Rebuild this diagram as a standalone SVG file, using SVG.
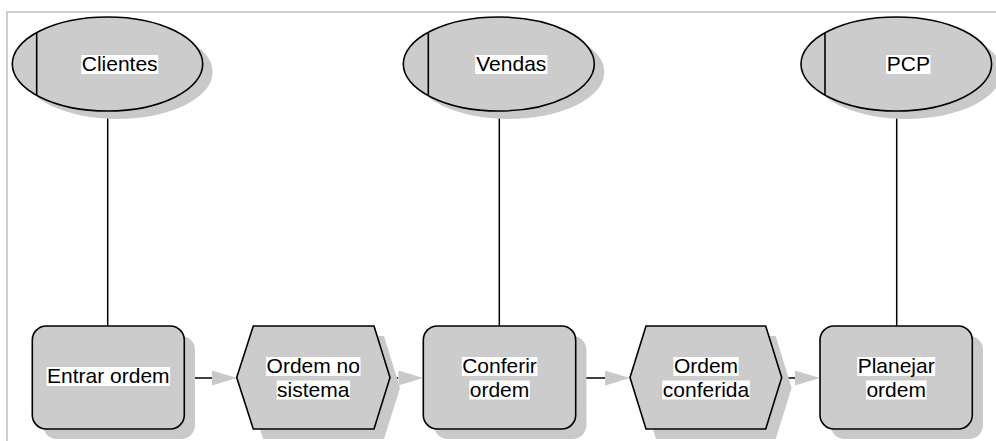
<svg xmlns="http://www.w3.org/2000/svg" width="996" height="441" viewBox="0 0 996 441">
  <style>
    .frame { fill: none; stroke: #cdcdcd; stroke-width: 2; }
    .shadow { fill: #c9c9c9; stroke: none; }
    .shape { fill: #cccccc; stroke: #000; stroke-width: 1.6; }
    .mark { fill: none; stroke: #000; stroke-width: 1.6; }
    .link { fill: none; stroke: #000; stroke-width: 1.5; }
    .bg { fill: #fff; }
    .lbl { font-family: "Liberation Sans", Arial, sans-serif; font-size: 21px; fill: #000; text-anchor: middle; }
  </style>
  <defs>
    <marker id="arrow" markerUnits="userSpaceOnUse" markerWidth="26" markerHeight="16" refX="0" refY="7.5" orient="auto">
      <path d="M0,0 L25,7.5 L0,15 Z" fill="#c9c9c9"/>
    </marker>
  </defs>

  <!-- outer frame -->
  <rect class="frame" x="7" y="12" width="1000" height="440"/>

  <!-- connectors -->
  <g id="connectors">
    <line class="link" x1="107.7" y1="111" x2="107.7" y2="326"/>
    <line class="link" x1="499.3" y1="111" x2="499.3" y2="326"/>
    <line class="link" x1="896.7" y1="111" x2="896.7" y2="326"/>
    <path class="link" d="M184.3,378 H212" marker-end="url(#arrow)"/>
    <path class="link" d="M390,378 H398.3" marker-end="url(#arrow)"/>
    <path class="link" d="M575.7,378 H605" marker-end="url(#arrow)"/>
    <path class="link" d="M781.7,378 H795" marker-end="url(#arrow)"/>
  </g>

  <!-- roles -->
  <g id="clientes">
    <ellipse class="shadow" cx="117.5" cy="72" rx="95.2" ry="47"/>
    <ellipse class="shape" cx="107.5" cy="64" rx="95.2" ry="47"/>
    <line class="mark" x1="36.7" y1="32.5" x2="36.7" y2="95.5"/>
    <rect class="bg" x="81.3" y="55" width="76.9" height="19"/>
    <text class="lbl" x="119.7" y="71">Clientes</text>
  </g>
  <g id="vendas">
    <ellipse class="shadow" cx="508.8" cy="72" rx="95.5" ry="47"/>
    <ellipse class="shape" cx="498.8" cy="64" rx="95.5" ry="47"/>
    <line class="mark" x1="428.3" y1="32.5" x2="428.3" y2="95.5"/>
    <rect class="bg" x="475.2" y="55" width="72.2" height="19"/>
    <text class="lbl" x="511.3" y="71">Vendas</text>
  </g>
  <g id="pcp">
    <ellipse class="shadow" cx="906.3" cy="72" rx="95.3" ry="47"/>
    <ellipse class="shape" cx="896.3" cy="64" rx="95.3" ry="47"/>
    <line class="mark" x1="825" y1="32.5" x2="825" y2="95.5"/>
    <rect class="bg" x="886.2" y="55" width="44.2" height="19"/>
    <text class="lbl" x="908.3" y="71">PCP</text>
  </g>

  <!-- functions -->
  <g id="entrar-ordem">
    <rect class="shadow" x="43" y="336" width="152" height="103" rx="14"/>
    <rect class="shape" x="32.3" y="326" width="152" height="103" rx="14"/>
    <rect class="bg" x="46.6" y="367" width="123.5" height="19"/>
    <text class="lbl" x="108.3" y="383">Entrar ordem</text>
  </g>
  <g id="conferir-ordem">
    <rect class="shadow" x="434" y="336" width="152.4" height="103" rx="14"/>
    <rect class="shape" x="423.3" y="326" width="152.4" height="103" rx="14"/>
    <rect class="bg" x="461.7" y="357" width="75.7" height="19"/>
    <text class="lbl" x="499.5" y="373">Conferir</text>
    <rect class="bg" x="469.3" y="380.5" width="60.5" height="19"/>
    <text class="lbl" x="499.5" y="396.5">ordem</text>
  </g>
  <g id="planejar-ordem">
    <rect class="shadow" x="830.7" y="336" width="152.3" height="103" rx="14"/>
    <rect class="shape" x="820" y="326" width="152.3" height="103" rx="14"/>
    <rect class="bg" x="857.2" y="357" width="78" height="19"/>
    <text class="lbl" x="896.2" y="373">Planejar</text>
    <rect class="bg" x="866" y="380.5" width="60.5" height="19"/>
    <text class="lbl" x="896.2" y="396.5">ordem</text>
  </g>

  <!-- events -->
  <g id="ordem-no-sistema">
    <polygon class="shadow" points="246.7,388 263.3,336 384,336 400,388 384,439 263.3,439"/>
    <polygon class="shape" points="236.7,377.5 253.3,326 374,326 390,377.5 374,429 253.3,429"/>
    <rect class="bg" x="266.1" y="357" width="94.4" height="19"/>
    <text class="lbl" x="313.3" y="373">Ordem no</text>
    <rect class="bg" x="276.7" y="380.5" width="73.3" height="19"/>
    <text class="lbl" x="313.3" y="396.5">sistema</text>
  </g>
  <g id="ordem-conferida">
    <polygon class="shadow" points="640,388 656,336 775.7,336 791.7,388 775.7,439 656,439"/>
    <polygon class="shape" points="630,377.5 646,326 765.7,326 781.7,377.5 765.7,429 646,429"/>
    <rect class="bg" x="673.4" y="357" width="65.2" height="19"/>
    <text class="lbl" x="706" y="373">Ordem</text>
    <rect class="bg" x="662.3" y="380.5" width="87.4" height="19"/>
    <text class="lbl" x="706" y="396.5">conferida</text>
  </g>
</svg>
